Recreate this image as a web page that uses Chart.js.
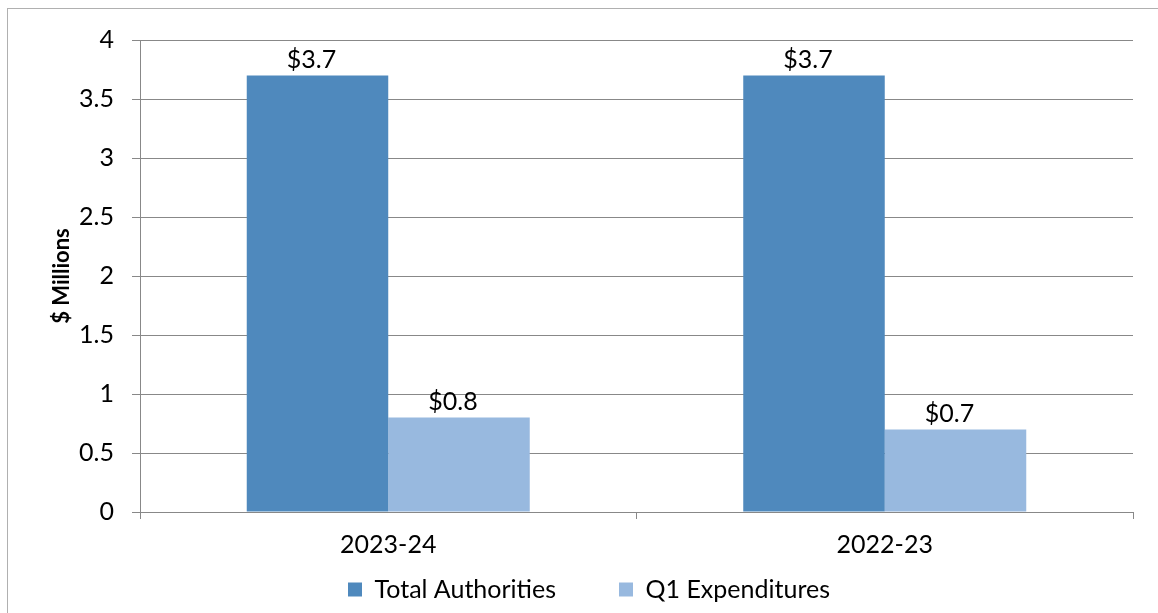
<!DOCTYPE html>
<html>
<head>
<meta charset="utf-8">
<script src="https://cdn.jsdelivr.net/npm/chart.js@4/dist/chart.umd.min.js"></script>
<style>
  html, body { margin: 0; padding: 0; background: #fff; }
  #frame { position: absolute; left: 7px; top: 8px; width: 1151px; height: 605px;
           border-top: 1px solid #b0b0b0; border-left: 1px solid #b0b0b0; }
  #wrap { position: absolute; left: 0; top: 0; width: 1158px; height: 613px; }
</style>
</head>
<body>
<div id="frame"></div>
<div id="wrap"><canvas id="chart"></canvas></div>
<script>
// fiscal years and spending, $ millions
const years = ['2023-24', '2022-23'];
const totalAuthorities = [3.7, 3.7];
const q1Expenditures = [0.8, 0.7];
const yTicks = [0, 0.5, 1, 1.5, 2, 2.5, 3, 3.5, 4];

const FONT = 'Lato, "Open Sans", sans-serif';

// draws the "$x.x" value over each bar
const barLabels = {
  id: 'barLabels',
  afterDatasetsDraw(chart) {
    const ctx = chart.ctx;
    ctx.save();
    ctx.font = '25px ' + FONT;
    ctx.fillStyle = '#000';
    ctx.textAlign = 'center';
    ctx.textBaseline = 'bottom';
    chart.data.datasets.forEach((ds, i) => {
      chart.getDatasetMeta(i).data.forEach((bar, j) => {
        ctx.fillText('$' + ds.data[j].toFixed(1), bar.x - 6, bar.y - 3);
      });
    });
    ctx.restore();
  }
};

new Chart(document.getElementById('chart'), {
  type: 'bar',
  data: {
    labels: years,
    datasets: [
      { label: 'Total Authorities', data: totalAuthorities, backgroundColor: '#4f89bd' },
      { label: 'Q1 Expenditures', data: q1Expenditures, backgroundColor: '#98b9df' }
    ]
  },
  options: {
    responsive: true,
    maintainAspectRatio: false,
    animation: false,
    categoryPercentage: 0.57,
    barPercentage: 1,
    layout: { padding: { left: 45, right: 25, top: 40, bottom: 1 } },
    plugins: {
      tooltip: { enabled: false },
      legend: {
        position: 'bottom',
        labels: {
          boxWidth: 14, boxHeight: 14, padding: 13,
          color: '#000', font: { family: FONT, size: 25 },
          // widen the gap after the first entry without growing the legend's height
          generateLabels(chart) {
            const items = Chart.defaults.plugins.legend.labels.generateLabels(chart);
            items[0].text += '\u2003\u2003\u2002';
            return items;
          }
        }
      }
    },
    scales: {
      x: {
        grid: { display: true, drawOnChartArea: false, offset: true, tickLength: 7, color: '#888' },
        border: { color: '#888' },
        ticks: { color: '#000', font: { family: FONT, size: 25 }, padding: 11 },
        afterFit(scale) { scale.height = 52; }
      },
      y: {
        min: 0, max: 4,
        afterBuildTicks(scale) { scale.ticks = yTicks.map(v => ({ value: v })); },
        grid: { color: '#888', tickLength: 8 },
        border: { color: '#888' },
        ticks: { color: '#000', font: { family: FONT, size: 25 }, padding: 18,
                 callback: v => String(v) },
        title: { display: true, text: '$ Millions', color: '#000', font: { family: FONT, size: 22, weight: 'bold' } },
        afterFit(scale) { scale.width = 95; }
      }
    }
  },
  plugins: [barLabels]
});
</script>
</body>
</html>
